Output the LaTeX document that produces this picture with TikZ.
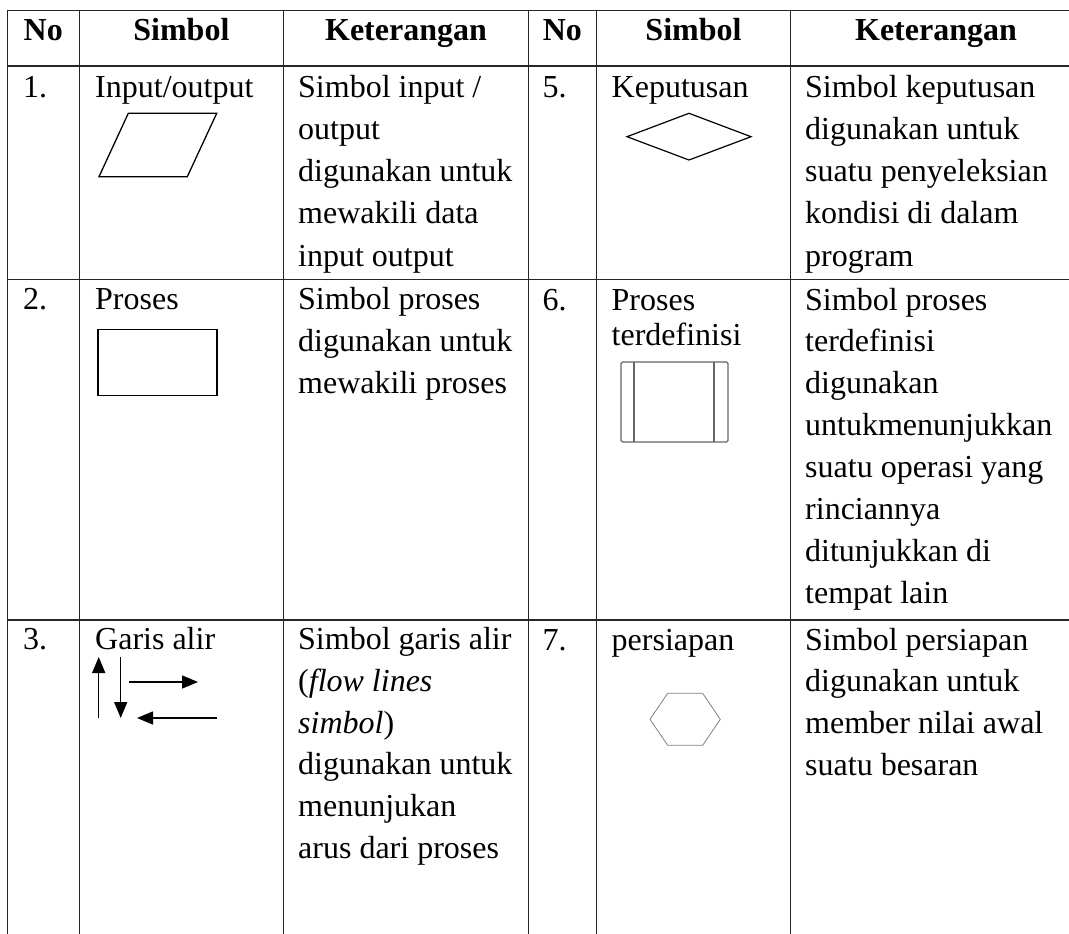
\documentclass[tikz,border=0pt]{standalone}
\usepackage{fontspec}
\setmainfont{Liberation Serif}
\usetikzlibrary{arrows.meta}
\begin{document}
\begin{tikzpicture}[x=1pt,y=-1pt,
  grid/.style={line width=1.4pt, draw=black!85},
  txt/.style={font=\fontsize{32}{42}\selectfont, inner sep=0pt, anchor=base west},
  hdr/.style={font=\fontsize{32}{42}\selectfont\bfseries, inner sep=0pt, anchor=base},
  sym/.style={line width=1.3pt, draw=black, line join=miter},
  pp/.style={line width=1.2pt, draw=black!60},
  hex/.style={line width=0.8pt, draw=black!50},
  flow/.style={line width=1.5pt, -{Triangle[length=16pt,width=13pt]}}]
\useasboundingbox (0,0) rectangle (1069,934);
\clip (0,0) rectangle (1069,934);
% grid
\foreach \yy in {10.7,66,279.3,620} \draw[grid] (7.3,\yy) -- (1100,\yy);
\foreach \xx in {7.3,79.3,283.5,528.3,596.5,790.5} \draw[grid] (\xx,10.7) -- (\xx,940);
% header
\node[hdr] (h1) at (43.3,40.7) {No};
\node[hdr] (h2) at (181.4,40.7) {Simbol};
\node[hdr] (h3) at (406,40.7) {Keterangan};
\node[hdr] (h4) at (562.4,40.7) {No};
\node[hdr] (h5) at (693.5,40.7) {Simbol};
\node[hdr] (h6) at (936,40.7) {Keterangan};
% row 1
\node[txt] (n1) at (23,97) {1.};
\node[txt] (s1) at (95,97) {Input/output};
\foreach \t [count=\i] in {Simbol input /, output, digunakan untuk, mewakili data, input output}
  \node[txt] (k1-\i) at ({298},{97+(\i-1)*42.3}) {\t};
\node[txt] (n5) at (542.5,97) {5.};
\node[txt] (s5) at (611.5,97) {Keputusan};
\foreach \t [count=\i] in {Simbol keputusan, digunakan untuk, suatu penyeleksian, kondisi di dalam, program}
  \node[txt] (k5-\i) at ({805},{97+(\i-1)*42.3}) {\t};
\draw[sym] (99,176.7) -- (187.3,176.7) -- (216.7,113.3) -- (128.3,113.3) -- cycle;
\draw[sym, line width=1.2pt] (627,136.7) -- (689,113.3) -- (751,136.7) -- (689,160) -- cycle;
% row 2
\node[txt] (n2) at (23,309.5) {2.};
\node[txt] (s2) at (95,309.5) {Proses};
\foreach \t [count=\i] in {Simbol proses, digunakan untuk, mewakili proses}
  \node[txt] (k2-\i) at ({298},{309.5+(\i-1)*42}) {\t};
\draw[sym] (98,329.3) rectangle (217,395.7);
\node[txt] (n6) at (542.5,310) {6.};
\node[txt] (s6a) at (611.5,310) {Proses};
\node[txt] (s6b) at (611.5,345) {terdefinisi};
\foreach \t [count=\i] in {Simbol proses, terdefinisi, digunakan, untukmenunjukkan, suatu operasi yang, rinciannya, ditunjukkan di, tempat lain}
  \node[txt] (k6-\i) at ({805},{310+(\i-1)*41.9}) {\t};
\draw[pp, rounded corners=1.5pt] (621,362) rectangle (728,442);
\draw[pp] (634,362) -- (634,442);
\draw[pp] (714,362) -- (714,442);
% row 3
\node[txt] (n3) at (23,649.5) {3.};
\node[txt] (s3) at (95,649.5) {Garis alir};
\foreach \t [count=\i] in {Simbol garis alir, {(\textit{flow lines}}, {\textit{simbol})}, digunakan untuk, menunjukan, arus dari proses}
  \node[txt] (k3-\i) at ({298},{649.5+(\i-1)*41.8}) {\t};
\coordinate (ua) at (98.7,718);  \coordinate (ub) at (98.7,657);
\coordinate (da) at (120.7,657); \coordinate (db) at (120.7,718);
\coordinate (ra) at (129,682);   \coordinate (rb) at (198,682);
\coordinate (la) at (217,718);   \coordinate (lb) at (137,718);
\draw[flow] (ua) -- (ub);
\draw[flow] (da) -- (db);
\draw[flow] (ra) -- (rb);
\draw[flow] (la) -- (lb);
\node[txt] (n7) at (542.5,650) {7.};
\node[txt] (s7) at (611.5,650) {persiapan};
\foreach \t [count=\i] in {Simbol persiapan, digunakan untuk, member nilai awal, suatu besaran}
  \node[txt] (k7-\i) at ({805},{650+(\i-1)*41.7}) {\t};
\draw[hex] (650,719.3) -- (667.7,693.3) -- (702.7,693.3) -- (720.3,719.3) -- (702.7,745.3) -- (667.7,745.3) -- cycle;
\end{tikzpicture}
\end{document}
